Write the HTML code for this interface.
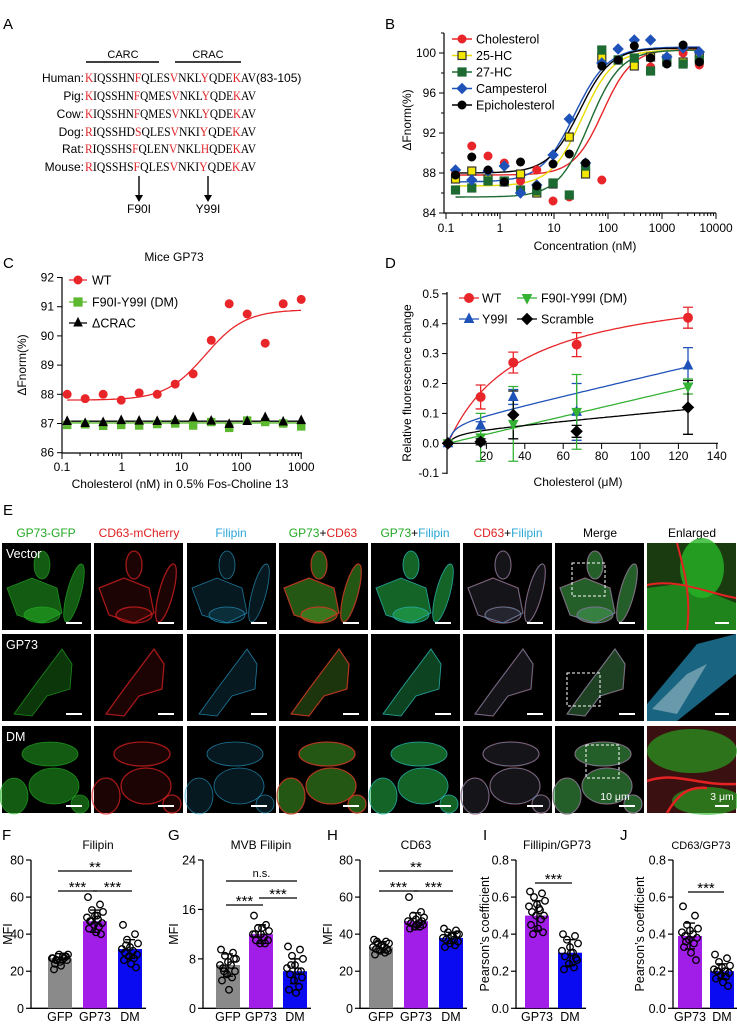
<!DOCTYPE html>
<html><head><meta charset="utf-8"><style>
html,body{margin:0;padding:0;background:#fff}
svg{display:block;font-family:"Liberation Sans",sans-serif}
.t{font-size:11px}
.lab{font-size:15px}
</style></head><body>
<svg id="fig" width="737" height="1025" viewBox="0 0 737 1025" xmlns="http://www.w3.org/2000/svg">
<rect width="737" height="1025" fill="#fff"/>
<g>
<text x="3" y="29" class="lab">A</text>
<text x="123" y="58" class="t" text-anchor="middle" font-size="12">CARC</text>
<line x1="86" y1="62" x2="159" y2="62" stroke="#000" stroke-width="1.6"/>
<text x="208" y="58" class="t" text-anchor="middle" font-size="12">CRAC</text>
<line x1="175" y1="62" x2="241" y2="62" stroke="#000" stroke-width="1.6"/>
<g font-size="13">
<text x="84" y="82" text-anchor="end" font-size="12">Human:</text>
<text x="85" y="82" font-family="Liberation Serif" textLength="171" lengthAdjust="spacingAndGlyphs"><tspan fill="#e0262a">K</tspan>IQSSHN<tspan fill="#e0262a">F</tspan>QLES<tspan fill="#e0262a">V</tspan>NKL<tspan fill="#e0262a">Y</tspan>QDE<tspan fill="#e0262a">K</tspan>AV</text>
<text x="256" y="82" font-size="12">(83-105)</text>
<text x="84" y="100" text-anchor="end" font-size="12">Pig:</text>
<text x="85" y="100" font-family="Liberation Serif" textLength="171" lengthAdjust="spacingAndGlyphs"><tspan fill="#e0262a">K</tspan>IQSSHN<tspan fill="#e0262a">F</tspan>QMES<tspan fill="#e0262a">V</tspan>NKL<tspan fill="#e0262a">Y</tspan>QDE<tspan fill="#e0262a">K</tspan>AV</text>
<text x="84" y="118" text-anchor="end" font-size="12">Cow:</text>
<text x="85" y="118" font-family="Liberation Serif" textLength="171" lengthAdjust="spacingAndGlyphs"><tspan fill="#e0262a">K</tspan>IQSSHN<tspan fill="#e0262a">F</tspan>QMES<tspan fill="#e0262a">V</tspan>NKL<tspan fill="#e0262a">Y</tspan>QDE<tspan fill="#e0262a">K</tspan>AV</text>
<text x="84" y="136" text-anchor="end" font-size="12">Dog:</text>
<text x="85" y="136" font-family="Liberation Serif" textLength="171" lengthAdjust="spacingAndGlyphs"><tspan fill="#e0262a">R</tspan>IQSSHD<tspan fill="#e0262a">S</tspan>QLES<tspan fill="#e0262a">V</tspan>NKI<tspan fill="#e0262a">Y</tspan>QDE<tspan fill="#e0262a">K</tspan>AV</text>
<text x="84" y="153" text-anchor="end" font-size="12">Rat:</text>
<text x="85" y="153" font-family="Liberation Serif" textLength="171" lengthAdjust="spacingAndGlyphs"><tspan fill="#e0262a">R</tspan>IQSSHS<tspan fill="#e0262a">F</tspan>QLEN<tspan fill="#e0262a">V</tspan>NKL<tspan fill="#e0262a">H</tspan>QDE<tspan fill="#e0262a">K</tspan>AV</text>
<text x="84" y="171" text-anchor="end" font-size="12">Mouse:</text>
<text x="85" y="171" font-family="Liberation Serif" textLength="171" lengthAdjust="spacingAndGlyphs"><tspan fill="#e0262a">R</tspan>IQSSHS<tspan fill="#e0262a">F</tspan>QLES<tspan fill="#e0262a">V</tspan>NKI<tspan fill="#e0262a">Y</tspan>QDE<tspan fill="#e0262a">K</tspan>AV</text>
</g>
<line x1="139" y1="176" x2="139" y2="196" stroke="#000" stroke-width="1.4"/>
<polygon points="135,195 143,195 139,202" fill="#000"/>
<line x1="208" y1="176" x2="208" y2="196" stroke="#000" stroke-width="1.4"/>
<polygon points="204,195 212,195 208,202" fill="#000"/>
<text x="139" y="213" text-anchor="middle" font-size="12">F90I</text>
<text x="208" y="213" text-anchor="middle" font-size="12">Y99I</text>
</g>
<g id="pb">
<text x="385" y="29" class="lab">B</text>
<text transform="translate(411,120) rotate(-90)" text-anchor="middle" font-size="12">ΔFnorm(%)</text>
<text x="585" y="250" text-anchor="middle" font-size="12">Concentration (nM)</text>
</g>
<g id="pc">
<text x="3" y="268" class="lab">C</text>
<text x="174" y="261" text-anchor="middle" font-size="12">Mice GP73</text>
<text transform="translate(26,365) rotate(-90)" text-anchor="middle" font-size="12">ΔFnorm(%)</text>
<text x="180" y="488" text-anchor="middle" font-size="12">Cholesterol (nM) in 0.5% Fos-Choline 13</text>
</g>
<g id="pd">
<text x="385" y="268" class="lab">D</text>
<text transform="translate(411,383) rotate(-90)" text-anchor="middle" font-size="12">Relative fluorescence change</text>
<text x="578" y="486" text-anchor="middle" font-size="12">Cholesterol (μM)</text>
</g>
<g id="pe">
<text x="3" y="515" class="lab">E</text>
<g font-size="12" text-anchor="middle">
<text x="46" y="537" fill="#22a822">GP73-GFP</text>
<text x="139" y="537" fill="#e02020">CD63-mCherry</text>
<text x="231" y="537" fill="#2aa6d6">Filipin</text>
<text x="323" y="537"><tspan fill="#22a822">GP73</tspan>+<tspan fill="#e02020">CD63</tspan></text>
<text x="415" y="537"><tspan fill="#22a822">GP73</tspan>+<tspan fill="#2aa6d6">Filipin</tspan></text>
<text x="508" y="537"><tspan fill="#e02020">CD63</tspan>+<tspan fill="#2aa6d6">Filipin</tspan></text>
<text x="600" y="537">Merge</text>
<text x="692" y="537">Enlarged</text>
</g>
</g>
<g id="pf">
<text x="2" y="840" class="lab">F</text>
<text x="168" y="840" class="lab">G</text>
<text x="327" y="840" class="lab">H</text>
<text x="483" y="840" class="lab">I</text>
<text x="620" y="840" class="lab">J</text>
</g>
</svg>
<script>
const NS='http://www.w3.org/2000/svg';
const svg=document.getElementById('fig');
function mk(tag,attrs,parent){const e=document.createElementNS(NS,tag);for(const k in attrs)e.setAttribute(k,attrs[k]);(parent||svg).appendChild(e);return e;}
function txt(s,x,y,anchor,size,parent){const e=mk('text',{x:x,y:y,'text-anchor':anchor||'middle','font-size':size||11},parent);e.textContent=s;return e;}
function marker(shape,x,y,fill,stroke,s,parent){
  let e;
  if(shape==='circle')e=mk('circle',{cx:x,cy:y,r:s,fill:fill,stroke:stroke,'stroke-width':1},parent);
  else if(shape==='square')e=mk('rect',{x:x-s,y:y-s,width:2*s,height:2*s,fill:fill,stroke:stroke,'stroke-width':1.2},parent);
  else if(shape==='diamond')e=mk('polygon',{points:`${x},${y-s-1} ${x+s+1},${y} ${x},${y+s+1} ${x-s-1},${y}`,fill:fill,stroke:stroke},parent);
  else if(shape==='tri')e=mk('polygon',{points:`${x},${y-s-1} ${x+s},${y+s-1} ${x-s},${y+s-1}`,fill:fill,stroke:stroke},parent);
  else e=mk('polygon',{points:`${x},${y+s+1} ${x+s},${y-s+1} ${x-s},${y-s+1}`,fill:fill,stroke:stroke},parent);
  return e;
}

/* ===== Panel B data ===== */
const bConc=[0.15,0.3,0.6,1.2,2.4,4.8,9.6,19.2,38.4,76.8,154,307,614,1229,2458,4915];
const bChol=[88.0,90.7,89.7,89.0,87.2,88.3,85.2,85.6,88.9,87.3,99.3,99.5,98.6,99.0,100.0,98.8];
const b25HC=[87.4,88.2,87.4,87.1,87.9,86.0,86.9,91.6,87.9,99.5,99.3,98.7,99.6,99.4,99.1,99.6];
const b27HC=[86.3,86.5,87.2,87.2,86.3,86.2,87.0,85.8,88.7,100.3,99.3,99.5,98.2,99.1,98.9,99.3];
const bCamp=[88.3,87.3,88.2,88.7,86.0,86.8,89.8,93.4,89.0,99.0,100.4,101.3,101.3,99.6,100.5,100.1];
const bEpi=[87.8,89.6,88.3,87.1,89.1,86.7,88.9,89.9,89.0,98.7,99.3,100.7,99.5,98.9,100.8,99.1];
const bSeriesNames=['Cholesterol','25-HC','27-HC','Campesterol','Epicholesterol'];
const bBottom=[87.8,86.7,85.6,87.1,88.0];
const bTop=[100.4,100.3,100.3,100.6,100.5];
const bEC50=[80,33,45,24,30];
const bHill=[1.6,1.5,1.5,1.4,1.5];
const bXTicks=[0.1,1,10,100,1000,10000];
const bYTicks=[84,88,92,96,100];

/* ===== Panel C data ===== */
const cConc=[0.122,0.244,0.488,0.977,1.95,3.91,7.81,15.6,31.3,62.5,125,250,500,1000];
const cWT=[88.0,87.85,88.0,87.8,88.05,88.0,88.35,88.7,89.85,91.1,90.75,89.75,91.1,91.25];
const cDM=[86.95,86.97,86.92,86.95,86.93,86.98,87.0,86.93,87.05,86.85,87.1,87.05,87.0,86.9];
const cCRAC=[87.07,87.0,87.03,87.1,87.08,87.07,87.1,87.2,87.08,86.97,87.07,87.2,87.05,87.1];
const cFitWT=[87.8,90.9,25,1.3];
const cFitFlat=[87.02,87.08];
const cXTicks=[0.1,1,10,100,1000];
const cYTicks=[86,87,88,89,90,91,92];

/* ===== Panel D data ===== */
const dConc=[0,17,34,67,125];
const dWT=[0,0.155,0.27,0.33,0.42];
const dWTerr=[0,0.04,0.035,0.04,0.035];
const dY99I=[0,0.06,0.155,0.105,0.26];
const dY99Ierr=[0,0.012,0.025,0.095,0.06];
const dDM=[0,0.02,0.065,0.105,0.19];
const dDMerr=[0,0.08,0.125,0.125,0.025];
const dScr=[0,0.005,0.095,0.04,0.12];
const dScrErr=[0,0.01,0.08,0.02,0.09];
const dXTicks=[20,40,60,80,100,120,140];
const dYTicks=[-0.1,0,0.1,0.2,0.3,0.4,0.5];

/* ===== Panels F-J data ===== */
const fCats=['GFP','GP73','DM'];
const fMeans=[27,47,32];
const fErr=[2.5,6,5];
const fDots=[[27,28,26,29,25,27,28,24,26,29,27,21,23,28,26],[60,56,53,52,50,49,48,47,46,45,44,43,41,40,47,50],[45,40,37,35,33,32,31,30,29,28,27,26,24,22,34]];
const gCats=['GFP','GP73','DM'];
const gMeans=[7,12,6];
const gErr=[1.8,1.5,2.0];
const gDots=[[9.5,9,8.5,8,7.5,7,7,6.5,6,5.5,5,4.5,3,8,6],[15,13.5,13,12.5,12,12,11.5,11,11,10.5,10.5,12,13],[10,9.5,8.5,8,7,6.5,6,5.5,5,4.5,3.5,3,2.5,6,7]];
const hCats=['GFP','GP73','DM'];
const hMeans=[33,47,38];
const hErr=[3,4.5,3];
const hDots=[[37,36,35,35,34,33,33,32,31,31,30,29,34,32,36],[60,52,50,49,48,47,46,46,45,44,44,43,45,47],[43,42,41,40,39,38,37,37,36,35,34,33,39,40]];
const iCats=['GP73','DM'];
const iMeans=[0.5,0.3];
const iErr=[0.08,0.07];
const iDots=[[0.63,0.62,0.6,0.58,0.56,0.55,0.53,0.52,0.5,0.5,0.48,0.45,0.43,0.41,0.4,0.54],[0.4,0.39,0.37,0.35,0.33,0.31,0.3,0.28,0.26,0.24,0.22,0.21,0.3,0.27]];
const jCats=['GP73','DM'];
const jMeans=[0.39,0.2];
const jErr=[0.07,0.04];
const jDots=[[0.55,0.5,0.45,0.43,0.42,0.41,0.4,0.39,0.38,0.37,0.35,0.33,0.3,0.26,0.36],[0.29,0.27,0.25,0.23,0.22,0.21,0.2,0.2,0.19,0.18,0.17,0.16,0.14,0.12,0.2]];

function sig(c,p){return p[0]+(p[1]-p[0])/(1+Math.pow(p[2]/c,p[3]));}

/* ---------- Panel B ---------- */
(function(){
const g=document.getElementById('pb');
const xB=c=>446+(Math.log10(c)+1)*54;
const yB=v=>213-(v-84)*10;
const ax=mk('path',{d:`M444,33 L444,213 L716,213`,fill:'none',stroke:'#000','stroke-width':1.2},g);


bYTicks.forEach(v=>{mk('line',{x1:439,x2:444,y1:yB(v),y2:yB(v),stroke:'#000'},g);mk('line',{x1:441,x2:444,y1:yB(v+2),y2:yB(v+2),stroke:'#000'},g);
 const t=txt(String(v),436,yB(v)+4,'end',12,g);
 
 });
bXTicks.forEach((v,i)=>{mk('line',{x1:xB(v),x2:xB(v),y1:213,y2:219,stroke:'#000'},g);
 if(i<bXTicks.length-1)for(let m=2;m<10;m++)mk('line',{x1:xB(v*m),x2:xB(v*m),y1:213,y2:216,stroke:'#000'},g);
 const t=txt(String(v),xB(v),232,'middle',12,g);
 
 });
const series=[bChol,b25HC,b27HC,bCamp,bEpi];
const cols=['#e8262a','#f3e600','#1d6b33','#1f52b8','#000'];
const curveCols=['#e8262a','#e8dc00','#1d6b33','#1f52b8','#000'];
const shapes=['circle','square','square','diamond','circle'];
const strokes=['#e8262a','#333','#1d6b33','#1f52b8','#000'];
series.forEach((s,k)=>{
 let d='';for(let i=0;i<=120;i++){const c=0.15*Math.pow(10,i*4.52/120);d+=(i?'L':'M')+xB(c).toFixed(1)+','+yB(sig(c,[bBottom[k],bTop[k],bEC50[k],bHill[k]])).toFixed(1);}
 const p=mk('path',{d:d,fill:'none',stroke:curveCols[k],'stroke-width':1.4},g);
 
 
});
series.forEach((s,k)=>{
 s.forEach((v,i)=>{const m=marker(shapes[k],xB(bConc[i]),yB(v),cols[k],strokes[k],4,g);
  
  });
 const ly=39+k*16.5;
 const ll=mk('line',{x1:452,x2:472,y1:ly,y2:ly,stroke:curveCols[k],'stroke-width':1.4},g);
 
 
 const lm=marker(shapes[k],462,ly,cols[k],strokes[k],4,g);
 
 
 const lt=txt(bSeriesNames[k],476,ly+4.5,'start',12.5,g);
 
 
});
})();

/* ---------- Panel C ---------- */
(function(){
const g=document.getElementById('pc');
const xC=c=>62+(Math.log10(c)+1)*59.8;
const yC=v=>452.7-(v-86)*29.2;
const ax=mk('path',{d:`M62,277 L62,453 L302,453`,fill:'none',stroke:'#000','stroke-width':1.2},g);


cYTicks.forEach(v=>{mk('line',{x1:57,x2:62,y1:yC(v),y2:yC(v),stroke:'#000'},g);
 const t=txt(String(v),54,yC(v)+4,'end',12,g);
 
 });
cXTicks.forEach((v,i)=>{mk('line',{x1:xC(v),x2:xC(v),y1:453,y2:459,stroke:'#000'},g);
 if(i<cXTicks.length-1)for(let m=2;m<10;m++)mk('line',{x1:xC(v*m),x2:xC(v*m),y1:453,y2:456,stroke:'#000'},g);
 const t=txt(String(v),xC(v),471,'middle',12,g);
 
 });
let d='';for(let i=0;i<=120;i++){const c=0.122*Math.pow(10,i*3.91/120);d+=(i?'L':'M')+xC(c).toFixed(1)+','+yC(sig(c,cFitWT)).toFixed(1);}
const p=mk('path',{d:d,fill:'none',stroke:'#e8262a','stroke-width':1.3},g);


const l1=mk('line',{x1:xC(0.122),x2:xC(1000),y1:yC(cFitFlat[0]),y2:yC(cFitFlat[0]),stroke:'#5cb82e','stroke-width':1.3},g);


const l2=mk('line',{x1:xC(0.122),x2:xC(1000),y1:yC(cFitFlat[1]),y2:yC(cFitFlat[1]),stroke:'#000','stroke-width':1.3},g);


cDM.forEach((v,i)=>{const m=marker('square',xC(cConc[i]),yC(v),'#5cb82e','#5cb82e',3.6,g);
 
 });
cCRAC.forEach((v,i)=>{const m=marker('tri',xC(cConc[i]),yC(v),'#000','#000',4,g);
 
 });
cWT.forEach((v,i)=>{const m=marker('circle',xC(cConc[i]),yC(v),'#e8262a','#e8262a',4,g);
 
 });
const leg=[['WT','#e8262a','circle','#e8262a',280],['F90I-Y99I (DM)','#5cb82e','square','#5cb82e',302],['ΔCRAC','#000','tri','#000',323]];
leg.forEach(L=>{
 const ll=mk('line',{x1:69,x2:87,y1:L[4],y2:L[4],stroke:L[1],'stroke-width':1.3},g);
 
 
 const m=marker(L[2],78,L[4],L[3],L[3],4,g);
 
 
 const t=txt(L[0],92,L[4]+4.5,'start',12.5,g);
 
 
});
})();

/* ---------- Panel D ---------- */
(function(){
const g=document.getElementById('pd');
const xD=c=>448+c*1.92;
const yD=v=>443.3-v*299;
const ya=mk('line',{x1:447,x2:447,y1:292,y2:474,stroke:'#000','stroke-width':1.2},g);


const xa=mk('line',{x1:447,x2:718,y1:443.3,y2:443.3,stroke:'#000','stroke-width':1.2},g);


dYTicks.forEach(v=>{mk('line',{x1:442,x2:447,y1:yD(v),y2:yD(v),stroke:'#000'},g);
 const t=txt(v.toFixed(1),439,yD(v)+4,'end',12,g);
 
 });
dXTicks.forEach(v=>{mk('line',{x1:xD(v),x2:xD(v),y1:443.3,y2:449,stroke:'#000'},g);
 const t=txt(String(v),xD(v),460,'middle',12,g);
 
 });
const fits=[['wt','#e8262a',c=>0.55*c/(38+c)],['y99i','#1f52b8',c=>0.07*c/(3+c)+0.0015*c],['dm','#33b233',c=>0.0015*c],['scramble','#000',c=>0.04*c/(5+c)+0.0006*c]];
fits.forEach(F=>{let d='';for(let i=0;i<=100;i++){const c=125*i/100;d+=(i?'L':'M')+xD(c).toFixed(1)+','+yD(F[2](c)).toFixed(1);}
 const p=mk('path',{d:d,fill:'none',stroke:F[1],'stroke-width':1.3},g);
 
 });
const S=[['wt',dWT,dWTerr,'#e8262a','circle'],['y99i',dY99I,dY99Ierr,'#1f52b8','tri'],['dm',dDM,dDMerr,'#33b233','tridown'],['scramble',dScr,dScrErr,'#000','diamond']];
S.forEach(s=>{s[1].forEach((v,i)=>{if(s[2][i]>0){const x=xD(dConc[i]);
  const eb=mk('path',{d:`M${x},${yD(v-s[2][i])}L${x},${yD(v+s[2][i])}M${x-5},${yD(v-s[2][i])}L${x+5},${yD(v-s[2][i])}M${x-5},${yD(v+s[2][i])}L${x+5},${yD(v+s[2][i])}`,stroke:s[3],'stroke-width':1.3,fill:'none'},g);
  
  }});});
S.forEach(s=>{s[1].forEach((v,i)=>{const m=marker(s[4],xD(dConc[i]),yD(v),s[3],s[3],4.5,g);
  
  });});
const leg=[['WT','#e8262a','circle',469,482,298],['F90I-Y99I (DM)','#33b233','tridown',527,541,298],['Y99I','#1f52b8','tri',469,482,319],['Scramble','#000','diamond',527,541,319]];
leg.forEach(L=>{
 const ll=mk('line',{x1:L[3]-10,x2:L[3]+10,y1:L[5],y2:L[5],stroke:L[1],'stroke-width':1.3},g);
 
 
 const m=marker(L[2],L[3],L[5],L[1],L[1],4.5,g);
 
 
 const t=txt(L[0],L[4],L[5]+4.5,'start',12.5,g);
 
 
});
})();

/* ---------- Panel E (micrographs) ---------- */
(function(){
const g=document.getElementById('pe');
const colX=[2,94,187,279,371,463,555,647];
const rowY=[543,634,726];
const W=89,H=87;
const GC='#25b525',RC='#e52222',CC='#2aa6d6';
const chans=[['g'],['r'],['c'],['g','r'],['g','c'],['r','c'],['g','r','c']];
const rowShapes=[
 [['e',40,22,8,14,0],['p','5,45 30,35 55,45 60,70 40,80 15,72'],['e',72,50,7,30,15],['e',40,72,18,8,0]],
 [['p','12,80 30,55 60,15 70,30 68,55 45,62 30,82']],
 [['e',48,28,28,12,0],['e',52,60,25,18,0],['e',12,70,14,18,0],['e',78,78,9,9,0]]
];
const boxes=[[17,20],[12,39],[31,19]];
const rowNames=['Vector','GP73','DM'];
rowY.forEach((y,r)=>{colX.forEach((x,c)=>{
 const tg=mk('g',{transform:`translate(${x},${y})`},g);
 
 
 mk('rect',{x:0,y:0,width:W,height:H,fill:'#000'},tg);
 if(c<7){
  const multi=chans[c].length>1;
  chans[c].forEach(ch=>{
   const col=ch==='g'?GC:ch==='r'?RC:CC;
   let fo=ch==='g'?(r===1?0.3:0.5):ch==='r'?0.12:0.15;
   if(multi&&ch!=='g')fo*=0.7;
   rowShapes[r].forEach(s=>{
    const a={fill:col,'fill-opacity':fo,stroke:col,'stroke-width':ch==='r'?1.3:0.8,'stroke-opacity':0.7};
    if(s[0]==='e'){a.cx=s[1];a.cy=s[2];a.rx=s[3];a.ry=s[4];a.transform=`rotate(${s[5]} ${s[1]} ${s[2]})`;mk('ellipse',a,tg);}
    else{a.points=s[1];mk('polygon',a,tg);}
   });
  });
  mk('rect',{x:64,y:79,width:16,height:2,fill:'#fff'},tg);
  if(c===6){const b=mk('rect',{x:boxes[r][0],y:boxes[r][1],width:33,height:33,fill:'none',stroke:'#fff','stroke-dasharray':'3,2','stroke-width':1},tg);
   
   }
 } else {
  if(r===0){mk('rect',{x:0,y:0,width:W,height:H,fill:'#1a3a10'},tg);mk('ellipse',{cx:55,cy:25,rx:22,ry:30,fill:GC,'fill-opacity':0.8},tg);mk('polygon',{points:'0,45 40,40 89,60 89,87 0,87',fill:GC,'fill-opacity':0.6},tg);mk('path',{d:'M0,42 C30,35 60,50 89,55 M30,0 C35,20 45,50 40,87',stroke:RC,'stroke-width':2,fill:'none'},tg);}
  if(r===1){mk('polygon',{points:'0,70 50,10 89,0 89,40 30,87 0,87',fill:CC,'fill-opacity':0.6},tg);mk('polygon',{points:'5,75 40,40 60,30 30,80',fill:'#fff','fill-opacity':0.35},tg);}
  if(r===2){mk('rect',{x:0,y:0,width:W,height:H,fill:'#3a1010'},tg);mk('ellipse',{cx:45,cy:25,rx:45,ry:22,fill:GC,'fill-opacity':0.6},tg);mk('ellipse',{cx:60,cy:75,rx:35,ry:14,fill:GC,'fill-opacity':0.6},tg);mk('path',{d:'M0,55 C30,45 50,60 89,58 M20,87 C30,70 40,60 60,62',stroke:RC,'stroke-width':2.5,fill:'none'},tg);}
  mk('rect',{x:68,y:79,width:14,height:2,fill:'#fff'},tg);
 }
 if(c===0){const t=txt(rowNames[r],4,15,'start',12.5,tg);t.setAttribute('fill','#fff');
  
  }
 if(r===2&&c===6){const t=txt('10 μm',60,74,'middle',10.5,tg);t.setAttribute('fill','#fff');
  
  }
 if(r===2&&c===7){const t=txt('3 μm',75,74,'middle',10.5,tg);t.setAttribute('fill','#fff');
  
  }
});});
})();

/* ---------- Panels F-J ---------- */
const barColors={GFP:'#8a8a8a',GP73:'#a11ee8',DM:'#0b0bf2'};
const jit=[-7,5,-3,8,0,-8,3,-5,7,-1,4,-6,1,6,-4,2];
function barPanel(id,axisX,centers,yMax,ticks,tickFmt,cats,means,errs,dots,title,titleX,ytitle,ytX,sigs){
 const g=document.getElementById('pf');
 const Y=v=>1008.3-v/yMax*148.3;
 const ax=mk('path',{d:`M${axisX},860 L${axisX},1008.3 L${centers[centers.length-1]+16},1008.3`,fill:'none',stroke:'#000','stroke-width':1.3},g);
 
 
 ticks.forEach(v=>{mk('line',{x1:axisX-5,x2:axisX,y1:Y(v),y2:Y(v),stroke:'#000','stroke-width':1.2},g);
  const t=txt(tickFmt(v),axisX-7,Y(v)+4.5,'end',12.5,g);
  
  });
 const tt=txt(title,titleX,849,'middle',id==='j'?11:12,g);
 
 
 const yt=txt(ytitle,0,0,'middle',12.5,g);yt.setAttribute('transform',`translate(${ytX},934) rotate(-90)`);
 
 
 cats.forEach((c,i)=>{
  const x=centers[i];
  const b=mk('rect',{x:x-12,y:Y(means[i]),width:24,height:1008.3-Y(means[i]),fill:barColors[c]},g);
  
  
  const e=mk('path',{d:`M${x},${Y(means[i]-errs[i])}L${x},${Y(means[i]+errs[i])}M${x-5},${Y(means[i]-errs[i])}L${x+5},${Y(means[i]-errs[i])}M${x-5},${Y(means[i]+errs[i])}L${x+5},${Y(means[i]+errs[i])}`,stroke:'#000','stroke-width':1.4,fill:'none'},g);
  
  
  dots[i].forEach((v,k)=>{const d=mk('circle',{cx:x+jit[k%jit.length],cy:Y(v),r:3.3,fill:'none',stroke:'#000','stroke-width':1.3},g);
   
   });
  const xl=txt(c,x,1021,'middle',12.5,g);
  
  
 });
 sigs.forEach(s=>{const l=mk('line',{x1:centers[s[0]]-2,x2:centers[s[1]]+2,y1:s[2],y2:s[2],stroke:'#000','stroke-width':1.3},g);
  
  
  const t=txt(s[3],(centers[s[0]]+centers[s[1]])/2,s[2]-(s[3]==='n.s.'?4:-1),'middle',s[3]==='n.s.'?11:15,g);
  
  });
}
barPanel('f',31,[60,95,130],80,[0,20,40,60,80],v=>String(v),fCats,fMeans,fErr,fDots,'Filipin',98,'MFI',12,
 [[0,2,871,'**'],[0,1,891,'***'],[1,2,891,'***']]);
barPanel('g',203,[228,261,295],24,[0,8,16,24],v=>String(v),gCats,gMeans,gErr,gDots,'MVB Filipin',261,'MFI',178,
 [[0,2,881,'n.s.'],[0,1,905,'***'],[1,2,898,'***']]);
barPanel('h',360,[381,416,451],80,[0,20,40,60,80],v=>String(v),hCats,hMeans,hErr,hDots,'CD63',416,'MFI',332,
 [[0,2,871,'**'],[0,1,891,'***'],[1,2,891,'***']]);
barPanel('i',516,[537,570],0.8,[0,0.2,0.4,0.6,0.8],v=>v.toFixed(1),iCats,iMeans,iErr,iDots,'Fillipin/GP73',557,'Pearson’s coefficient',489,
 [[0,1,883,'***']]);
barPanel('j',673,[690,722],0.8,[0,0.2,0.4,0.6,0.8],v=>v.toFixed(1),jCats,jMeans,jErr,jDots,'CD63/GP73',701,'Pearson’s coefficient',644,
 [[0,1,892,'***']]);
</script>
</body></html>
